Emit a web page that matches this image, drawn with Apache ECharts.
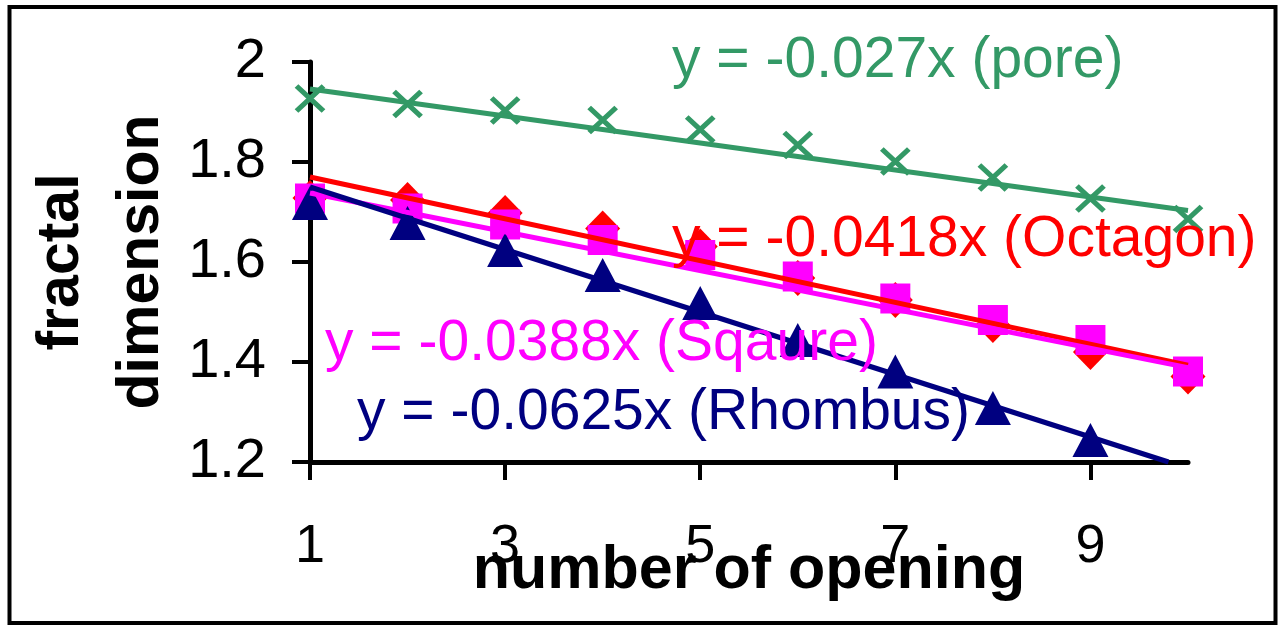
<!DOCTYPE html>
<html>
<head>
<meta charset="utf-8">
<script src="https://cdn.jsdelivr.net/npm/echarts@6/dist/echarts.min.js"></script>
<style>
  html, body { margin: 0; padding: 0; background: #fff; }
  #chart { width: 1279px; height: 625px; }
</style>
</head>
<body>
<div id="chart"></div>
<script>
// Fractal dimension against the number of openings, four opening shapes.
const xValues = [1, 2, 3, 4, 5, 6, 7, 8, 9, 10];
const octagonValues = [1.728, 1.724, 1.698, 1.667, 1.631, 1.568, 1.524, 1.474, 1.420, 1.371];
const squareValues = [1.727, 1.707, 1.675, 1.644, 1.614, 1.571, 1.527, 1.484, 1.444, 1.381];
const rhombusValues = [1.718, 1.678, 1.624, 1.574, 1.518, 1.444, 1.381, 1.308, 1.244];
const poreValues = [1.927, 1.916, 1.903, 1.884, 1.865, 1.834, 1.801, 1.769, 1.727, 1.686];

const seriesNames = ['Octagon', 'Sqaure', 'Rhombus', 'pore'];
// linear trend lines: y = slope * x + intercept
const trendSlopes = [-0.0418, -0.0388, -0.0625, -0.027];
const trendIntercepts = [1.8118, 1.7768, 1.8125, 1.973];

const xTickLabels = [1, 3, 5, 7, 9];
const yTickLabels = [1.2, 1.4, 1.6, 1.8, 2];

const colors = ['#FF0000', '#FF00FF', '#000080', '#339966'];
const FONT = '"Liberation Sans", Arial, sans-serif';

const xMin = 1, xMax = 10;
const yMin = yTickLabels[0], yMax = yTickLabels[yTickLabels.length - 1];

const allValues = [octagonValues, squareValues, rhombusValues, poreValues];
const pairs = vals => vals.map((v, i) => [xValues[i], v]);

// trend line from x = 1 to the point it leaves the plot
function trendLine(k) {
  const m = trendSlopes[k], b = trendIntercepts[k];
  let xEnd = xMax;
  if (m * xEnd + b < yMin) xEnd = (yMin - b) / m;
  return [[xMin, m * xMin + b], [xEnd, m * xEnd + b]];
}

const markerStyles = [
  { symbol: 'diamond', size: [35, 36] },
  { symbol: 'rect', size: [30, 30] },
  { symbol: 'triangle', size: [36, 34] },
  { symbol: 'path://M0,0 L10,10 M10,0 L0,10', size: [27, 25] }
];

const series = [];
allValues.forEach((vals, k) => {
  const isCross = k === 3;
  series.push({
    name: seriesNames[k],
    type: 'scatter',
    data: pairs(vals),
    symbol: markerStyles[k].symbol,
    symbolSize: markerStyles[k].size,
    itemStyle: isCross
      ? { color: 'none', borderColor: colors[k], borderWidth: 5, opacity: 1 }
      : { color: colors[k], opacity: 1 },
    emphasis: { disabled: true },
    z: 2
  });
});
allValues.forEach((vals, k) => {
  series.push({
    name: seriesNames[k] + ' trend',
    type: 'line',
    data: trendLine(k),
    showSymbol: false,
    lineStyle: { color: colors[k], width: 5, opacity: 1 },
    emphasis: { disabled: true },
    z: 3
  });
});

// equation labels
const labelSpots = [
  { left: 672, y: 240 },
  { left: 325, y: 344 },
  { left: 357, y: 413 },
  { left: 672, y: 61 }
];
const equationTexts = seriesNames.map((name, k) => ({
  type: 'text',
  z: 100,
  x: labelSpots[k].left,
  y: labelSpots[k].y,
  style: {
    text: 'y = ' + trendSlopes[k] + 'x (' + name + ')',
    fill: colors[k],
    font: '57px ' + FONT,
    textAlign: 'left',
    verticalAlign: 'middle'
  }
}));

const chart = echarts.init(document.getElementById('chart'), null, { renderer: 'canvas' });
chart.setOption({
  backgroundColor: '#ffffff',
  animation: false,
  grid: { left: 310, top: 62, right: 91, bottom: 163, containLabel: false, outerBoundsMode: 'none' },
  xAxis: {
    type: 'value',
    min: xMin,
    max: xMax,
    interval: 2,
    name: 'number of opening',
    nameLocation: 'middle',
    nameGap: 79,
    nameMoveOverlap: false,
    nameTextStyle: { fontFamily: FONT, fontWeight: 'bold', fontSize: 61, color: '#000' },
    axisLine: { show: true, onZero: false, lineStyle: { color: '#000', width: 5 } },
    axisTick: { show: true, inside: false, length: 18, lineStyle: { color: '#000', width: 4 }, customValues: xTickLabels },
    axisLabel: { fontFamily: FONT, fontSize: 54, color: '#000', margin: 58, customValues: xTickLabels },
    splitLine: { show: false }
  },
  yAxis: {
    type: 'value',
    min: yMin,
    max: yMax,
    interval: 0.2,
    name: 'fractal\ndimension',
    nameLocation: 'middle',
    nameRotate: 90,
    nameGap: 128,
    nameMoveOverlap: false,
    nameTextStyle: { fontFamily: FONT, fontWeight: 'bold', fontSize: 59, lineHeight: 80, color: '#000' },
    axisLine: { show: true, onZero: false, lineStyle: { color: '#000', width: 5 } },
    axisTick: { show: true, inside: false, length: 18, lineStyle: { color: '#000', width: 4 } },
    axisLabel: { fontFamily: FONT, fontSize: 56, color: '#000', margin: 44 },
    splitLine: { show: false }
  },
  series: series,
  graphic: equationTexts.concat([{
    type: 'rect',
    z: 100,
    shape: { x: 9.5, y: 7, width: 1266, height: 616 },
    style: { fill: 'none', stroke: '#000', lineWidth: 4 }
  }])
});
</script>
</body>
</html>
